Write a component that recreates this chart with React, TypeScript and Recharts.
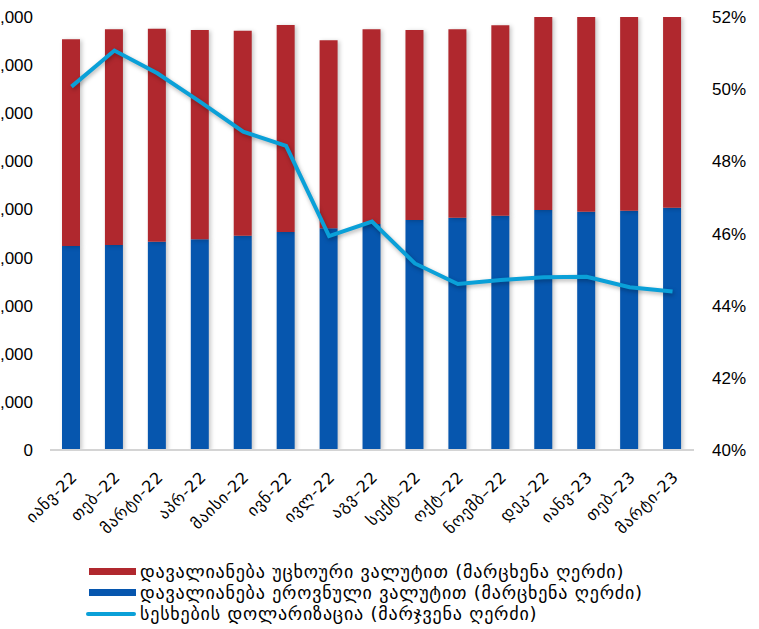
import { Bar, ComposedChart, Line, XAxis, YAxis } from "recharts";

const months = [
  "იანვ-22", "თებ–22", "მარტი-22", "აპრ-22", "მაისი-22", "ივნ-22", "ივლ-22", "აგვ–22",
  "სექტ–22", "ოქტ–22", "ნოემბ–22", "დეკ–22", "იანვ-23", "თებ–23", "მარტი-23",
];
const foreignCurrency = [
  21480, 22420, 22140, 21750, 21310, 21510, 19540, 20240, 19750, 19580, 19790, 20400, 20500, 20600, 20800,
];
const nationalCurrency = [
  21200, 21310, 21650, 21900, 22270, 22660, 23040, 23490, 23900, 24140, 24350, 24940, 24770, 24870, 25180,
];
const dollarization = [
  50.07, 51.07, 50.44, 49.65, 48.82, 48.43, 45.93, 46.33, 45.17, 44.6, 44.71, 44.79, 44.8, 44.51, 44.39,
];
const leftTicks = [0, 5000, 10000, 15000, 20000, 25000, 30000, 35000, 40000, 45000];
const rightTicks = [40, 42, 44, 46, 48, 50, 52];

const legendItems = [
  { label: "დავალიანება უცხოური ვალუტით (მარცხენა ღერძი)", color: "#b0282e", kind: "bar" },
  { label: "დავალიანება ეროვნული ვალუტით (მარცხენა ღერძი)", color: "#0656ae", kind: "bar" },
  { label: "სესხების დოლარიზაცია (მარჯვენა ღერძი)", color: "#0aa0d8", kind: "line" },
];

const data = months.map((m, i) => ({
  month: m,
  foreign: foreignCurrency[i],
  national: nationalCurrency[i],
  dollar: dollarization[i],
}));

const numFont = "'Liberation Sans', Arial, sans-serif";
const geoFont = "'DejaVu Sans', sans-serif";

const MonthTick = (props: any) => {
  const { x, y, payload } = props;
  const ax = x + 3;
  const ay = y + 16;
  return (
    <text
      x={ax}
      y={ay}
      transform={`rotate(-45, ${ax}, ${ay})`}
      textAnchor="end"
      dominantBaseline="central"
      fontFamily={geoFont}
      fontSize={16}
      letterSpacing={0.8}
      fill="#000"
    >
      {payload.value}
    </text>
  );
};

const shift = 40;

export default function App() {
  return (
    <div style={{ position: "absolute", left: 0, top: 0, width: 759, height: 629, overflow: "hidden", background: "#fff" }}>
      <style>{`
        .recharts-bar-rectangle path { filter: drop-shadow(2px 1px 2px rgba(0,0,0,0.22)); }
        .recharts-line-curve { filter: drop-shadow(1px 2px 2px rgba(0,0,0,0.3)); }
      `}</style>
      <div style={{ position: "absolute", left: -shift, top: 0 }}>
        <ComposedChart
          width={759 + shift}
          height={629}
          data={data}
          margin={{ top: 17, right: 5, bottom: 79, left: 0 }}
          barSize={18}
        >
          <XAxis
            dataKey="month"
            height={100}
            interval={0}
            tickLine={false}
            axisLine={{ stroke: "#d4d4d4", strokeWidth: 2 }}
            tick={<MonthTick />}
          />
          <YAxis
            yAxisId="left"
            width={90}
            domain={[0, 45000]}
            ticks={leftTicks}
            allowDataOverflow
            axisLine={false}
            tickLine={false}
            tickSize={0}
            tickMargin={17}
            tickFormatter={(v: number) => v.toLocaleString("en-US")}
            tick={{ fontFamily: numFont, fontSize: 17, fill: "#000" }}
          />
          <YAxis
            yAxisId="right"
            orientation="right"
            width={60}
            domain={[40, 52]}
            ticks={rightTicks}
            axisLine={false}
            tickLine={false}
            tickSize={0}
            tickMargin={18}
            tickFormatter={(v: number) => `${v}%`}
            tick={{ fontFamily: numFont, fontSize: 17, fill: "#000", textAnchor: "start" }}
          />
          <Bar yAxisId="left" dataKey="national" stackId="a" fill="#0656ae" isAnimationActive={false} />
          <Bar yAxisId="left" dataKey="foreign" stackId="a" fill="#b0282e" isAnimationActive={false} />
          <Line
            yAxisId="right"
            dataKey="dollar"
            type="linear"
            stroke="#0aa0d8"
            strokeWidth={4}
            dot={false}
            isAnimationActive={false}
          />
        </ComposedChart>
      </div>
      <div style={{ position: "absolute", left: 86, top: 561, fontFamily: geoFont, fontSize: 18, letterSpacing: 0.8, color: "#000" }}>
        {legendItems.map((it) => (
          <div key={it.label} style={{ display: "flex", alignItems: "center", height: 21 }}>
            <span
              style={{
                display: "inline-block",
                width: it.kind === "line" ? 50 : 47,
                marginLeft: it.kind === "line" ? 0 : 3,
                height: it.kind === "line" ? 4 : 7,
                borderRadius: it.kind === "line" ? 2 : 0,
                background: it.color,
                marginRight: 4,
              }}
            />
            <span style={{ whiteSpace: "nowrap" }}>{it.label}</span>
          </div>
        ))}
      </div>
    </div>
  );
}
